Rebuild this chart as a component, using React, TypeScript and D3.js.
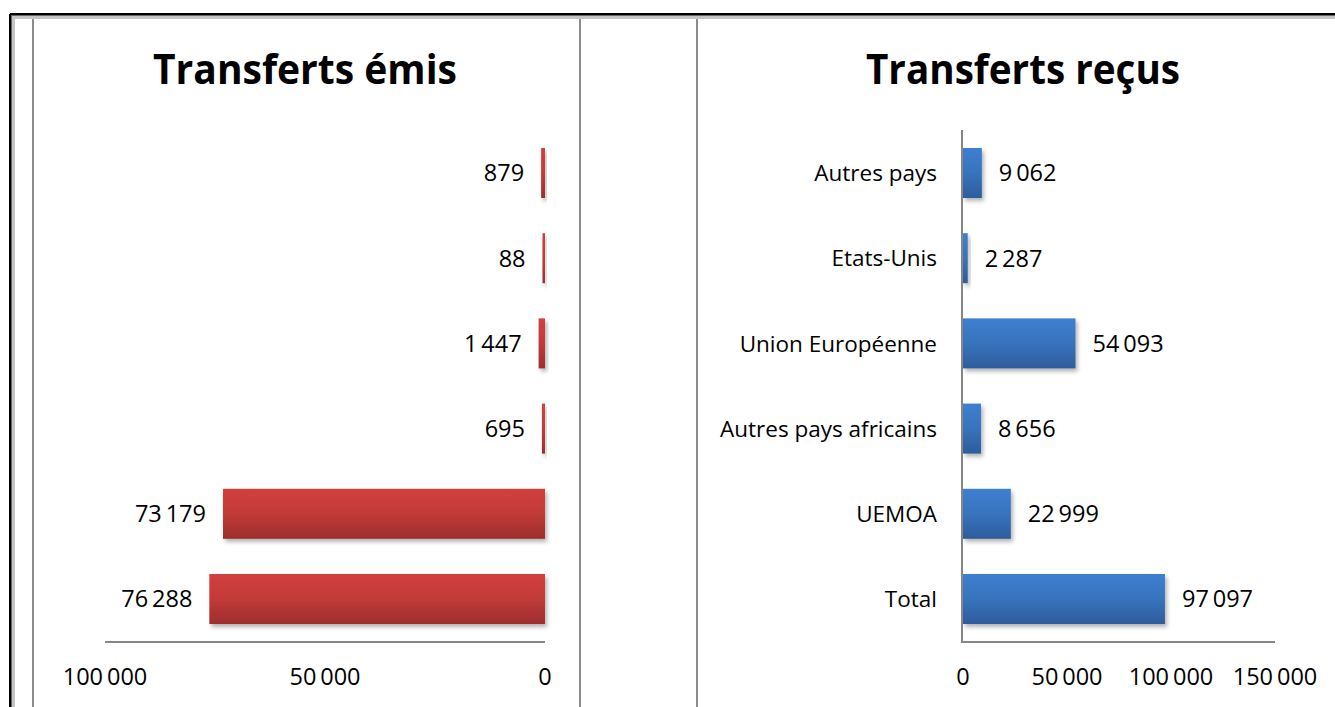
import React from "react";
import * as d3 from "d3";

const categories = ["Autres pays", "Etats-Unis", "Union Européenne", "Autres pays africains", "UEMOA", "Total"];
const emisValues = [879, 88, 1447, 695, 73179, 76288];
const recusValues = [9062, 2287, 54093, 8656, 22999, 97097];
const emisTicks = [100000, 50000, 0];
const recusTicks = [0, 50000, 100000, 150000];

const fmt = (v: number) => {
  const s = Math.round(v).toString();
  return s.replace(/\B(?=(\d{3})+(?!\d))/g, "\u2009");
};

const FONT = "'Open Sans', 'Noto Sans', sans-serif";
const AXIS = "#868686";
const MIN_W = 2.5;

export default function App() {
  const W = 1335;
  const H = 707;
  const y = d3
    .scaleBand<string>()
    .domain(categories)
    .range([130.4, 641.6])
    .paddingInner(0.413)
    .paddingOuter(0.2065);
  const xL = d3.scaleLinear().domain([0, 100000]).range([545, 105]);
  const xR = d3.scaleLinear().domain([0, 150000]).range([963, 1275]);
  const axisY = 642;
  const bh = y.bandwidth();

  return (
    <svg
      width={W}
      height={H}
      style={{ position: "absolute", left: 0, top: 0, background: "#fff" }}
      fontFamily={FONT}
    >
      <defs>
        <linearGradient id="gRed" x1="0" y1="0" x2="0" y2="1">
          <stop offset="0" stopColor="#d0403d" />
          <stop offset="0.5" stopColor="#c23a38" />
          <stop offset="1" stopColor="#9c2e2d" />
        </linearGradient>
        <linearGradient id="gBlue" x1="0" y1="0" x2="0" y2="1">
          <stop offset="0" stopColor="#3e7fd0" />
          <stop offset="0.5" stopColor="#3873bd" />
          <stop offset="1" stopColor="#2d5c9c" />
        </linearGradient>
        <filter id="sh" x="-50%" y="-20%" width="200%" height="160%">
          <feDropShadow dx="2" dy="3" stdDeviation="2.2" floodColor="#000" floodOpacity="0.3" />
        </filter>
      </defs>

      {/* frame */}
      <rect x={0} y={0} width={W} height={H} fill="#fff" />
      <line x1={10} y1={14} x2={W} y2={14} stroke="#000" strokeWidth={2} />
      <line x1={10} y1={14} x2={10} y2={H} stroke="#000" strokeWidth={2} />
      <line x1={11} y1={15.5} x2={W} y2={15.5} stroke="#666" strokeWidth={1} />
      <line x1={11.5} y1={15} x2={11.5} y2={H} stroke="#666" strokeWidth={1} />
      <line x1={12} y1={17.5} x2={W} y2={17.5} stroke="#c4c4c4" strokeWidth={3} />
      <line x1={13.5} y1={16} x2={13.5} y2={H} stroke="#c4c4c4" strokeWidth={3} />

      {/* separators */}
      {[33, 580, 697].map((x) => (
        <line key={x} x1={x} y1={19} x2={x} y2={H} stroke="#8c8c8c" strokeWidth={2} />
      ))}

      {/* Left chart */}
      <text
        x={305}
        y={84}
        textAnchor="middle"
        fontWeight="bold"
        fontSize={42}
        textLength={304}
        lengthAdjust="spacingAndGlyphs"
        fill="#000"
      >
        Transferts émis
      </text>
      <line x1={105} y1={axisY} x2={545} y2={axisY} stroke={AXIS} strokeWidth={2} />
      {categories.map((c, i) => {
        const v = emisValues[i];
        const y0 = y(c)!;
        const w = Math.max(MIN_W, xL(0) - xL(v));
        return (
          <g key={"l" + c}>
            <rect
              x={xL(0) - w}
              y={y0}
              width={w}
              height={bh}
              fill="url(#gRed)"
              filter="url(#sh)"
            />
            <text
              x={xL(0) - w - 17}
              y={y0 + bh / 2}
              dy="0.36em"
              textAnchor="end"
              fontSize={23.5}
              fill="#000"
            >
              {fmt(v)}
            </text>
          </g>
        );
      })}
      {emisTicks.map((t) => (
        <text key={"lt" + t} x={xL(t)} y={685} textAnchor="middle" fontSize={23.5} fill="#000">
          {fmt(t)}
        </text>
      ))}

      {/* Right chart */}
      <text
        x={1023}
        y={84}
        textAnchor="middle"
        fontWeight="bold"
        fontSize={42}
        textLength={314}
        lengthAdjust="spacingAndGlyphs"
        fill="#000"
      >
        Transferts reçus
      </text>
      {categories.map((c, i) => {
        const v = recusValues[i];
        const y0 = y(c)!;
        const w = Math.max(MIN_W, xR(v) - xR(0));
        return (
          <g key={"r" + c}>
            <rect
              x={xR(0)}
              y={y0}
              width={w}
              height={bh}
              fill="url(#gBlue)"
              filter="url(#sh)"
            />
            <text
              x={xR(0) + w + 17}
              y={y0 + bh / 2}
              dy="0.36em"
              textAnchor="start"
              fontSize={23.5}
              fill="#000"
            >
              {fmt(v)}
            </text>
            <text
              x={937}
              y={y0 + bh / 2}
              dy="0.36em"
              textAnchor="end"
              fontSize={22.5}
              fill="#000"
            >
              {c}
            </text>
          </g>
        );
      })}
      <line x1={962} y1={130} x2={962} y2={axisY + 1} stroke={AXIS} strokeWidth={2} />
      <line x1={962} y1={axisY} x2={1275} y2={axisY} stroke={AXIS} strokeWidth={2} />
      {recusTicks.map((t) => (
        <text key={"rt" + t} x={xR(t)} y={685} textAnchor="middle" fontSize={23.5} fill="#000">
          {fmt(t)}
        </text>
      ))}
    </svg>
  );
}
